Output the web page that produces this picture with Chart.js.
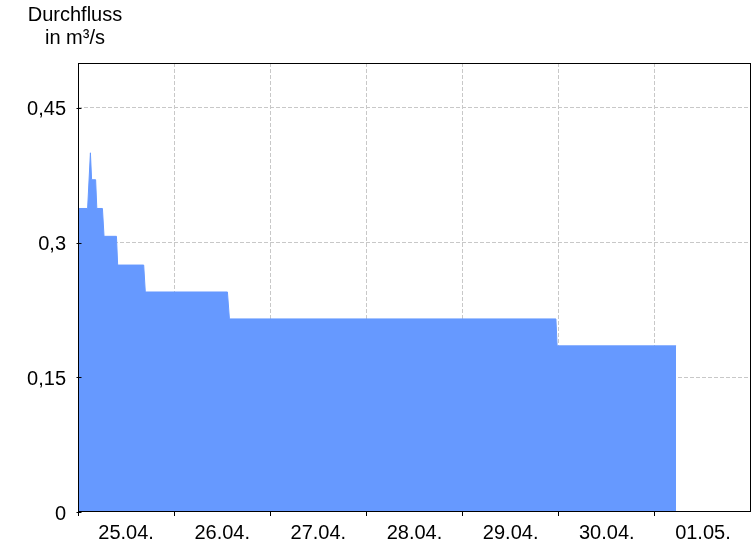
<!DOCTYPE html>
<html>
<head>
<meta charset="utf-8">
<script src="https://cdn.jsdelivr.net/npm/chart.js@4/dist/chart.umd.min.js"></script>
<style>
  html, body { margin: 0; padding: 0; background: #fff; }
  #wrap { position: relative; width: 756px; height: 546px; }
  #title { position: absolute; left: 0; top: 3px; width: 150px; text-align: center;
           font-family: "Liberation Sans", Arial, sans-serif; font-size: 20px; line-height: 23px; color: #000; }
</style>
</head>
<body>
<div id="wrap">
  <canvas id="c" width="756" height="546"></canvas>
  <div id="title">Durchfluss<br>in m³/s</div>
</div>
<script>
// hours since 25.04. 00:00
const times  = [0, 2.4, 3.1, 3.4, 4.4, 4.7, 6.1, 6.5, 9.6, 9.9, 16.4, 16.8, 37.3, 37.8, 119.3, 119.6, 149.3];
const values = [0.338, 0.338, 0.40, 0.37, 0.37, 0.338, 0.338, 0.307, 0.307, 0.275, 0.275, 0.245, 0.245, 0.215, 0.215, 0.185, 0.185];
const xLabels = ['25.04.', '26.04.', '27.04.', '28.04.', '29.04.', '30.04.', '01.05.'];
const xGridHours = [0, 24, 48, 72, 96, 120, 144, 168];
const yTicks = [0, 0.15, 0.3, 0.45];
const yTickLabels = ['0', '0,15', '0,3', '0,45'];

const points = times.map((t, i) => ({ x: t, y: values[i] }));
const labelHours = xLabels.map((_, i) => 12 + 24 * i);
const xTickValues = [...xGridHours, ...labelHours].sort((a, b) => a - b);

const frame = {
  id: 'frame',
  afterDraw(chart) {
    const a = chart.chartArea, ctx = chart.ctx;
    ctx.save();
    ctx.strokeStyle = '#000';
    ctx.lineWidth = 1;
    ctx.setLineDash([]);
    const l = Math.round(a.left) + 0.5, t = Math.round(a.top) + 0.5;
    const r = Math.round(a.right) - 0.5, b = Math.round(a.bottom) - 0.5;
    ctx.strokeRect(l, t, r - l, b - t);
    // left tick marks crossing the axis
    yTicks.forEach(v => {
      const y = Math.round(chart.scales.y.getPixelForValue(v)) + 0.5;
      ctx.beginPath(); ctx.moveTo(l - 2, y); ctx.lineTo(l + 3, y); ctx.stroke();
    });
    ctx.restore();
  }
};

const isGrid = v => v % 24 === 0;

new Chart(document.getElementById('c'), {
  type: 'line',
  data: {
    datasets: [{
      data: points,
      fill: 'origin',
      backgroundColor: '#6699ff',
      borderColor: '#6699ff',
      borderWidth: 1,
      pointRadius: 0,
      tension: 0
    }]
  },
  options: {
    responsive: false,
    animation: false,
    events: [],
    layout: { padding: { top: 63, right: 5, left: 0, bottom: 0 } },
    plugins: { legend: { display: false }, tooltip: { enabled: false }, title: { display: false } },
    scales: {
      x: {
        type: 'linear',
        min: 0, max: 168,
        z: 1,
        afterBuildTicks: s => { s.ticks = xTickValues.map(v => ({ value: v })); },
        afterFit: s => { s.height = 34; },
        border: { display: false, dash: [4, 2] },
        grid: {
          color: c => (c.tick && isGrid(c.tick.value) && c.tick.value > 0 && c.tick.value < 168) ? '#c8c8c8' : 'rgba(0,0,0,0)',
          tickColor: c => (c.tick && isGrid(c.tick.value) && c.tick.value < 168) ? '#000' : 'rgba(0,0,0,0)',
          tickBorderDash: [],
          tickLength: 4,
          drawTicks: true
        },
        ticks: {
          autoSkip: false, maxRotation: 0, padding: 5,
          color: '#000',
          font: { family: '"Liberation Sans", Arial, sans-serif', size: 20 },
          callback: v => (v % 24 === 12) ? xLabels[(v - 12) / 24] : ''
        }
      },
      y: {
        type: 'linear',
        min: 0, max: 0.5,
        z: 1,
        afterBuildTicks: s => { s.ticks = yTicks.map(v => ({ value: v })); },
        afterFit: s => { s.width = 78; },
        border: { display: false, dash: [4, 2] },
        grid: {
          color: c => (c.tick && c.tick.value > 0) ? '#c8c8c8' : 'rgba(0,0,0,0)',
          drawTicks: false
        },
        ticks: {
          padding: 12,
          labelOffset: 2,
          color: '#000',
          font: { family: '"Liberation Sans", Arial, sans-serif', size: 20 },
          callback: (v) => yTickLabels[yTicks.indexOf(v)] ?? ''
        }
      }
    }
  },
  plugins: [frame]
});
</script>
</body>
</html>
